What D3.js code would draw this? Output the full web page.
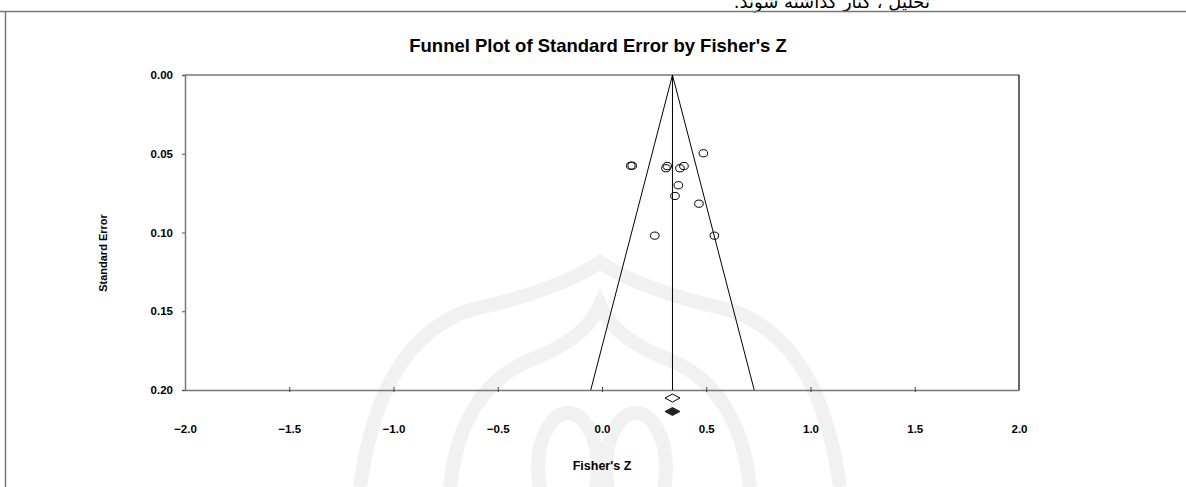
<!DOCTYPE html>
<html><head><meta charset="utf-8">
<script src="https://cdn.jsdelivr.net/npm/d3@7"></script>
<style>
html,body{margin:0;padding:0;background:#fff;}
svg{display:block;font-family:"Liberation Sans",Arial,sans-serif;}
</style></head>
<body>
<svg id="c" width="1186" height="487"></svg>
<script>
// ---- data ----
const title = "Funnel Plot of Standard Error by Fisher's Z";
const xLabel = "Fisher's Z";
const yLabel = "Standard Error";
const headerText = "تحلیل ، کنار گذاشته شوند.";
const xTicks = [-2.0, -1.5, -1.0, -0.5, 0.0, 0.5, 1.0, 1.5, 2.0];
const yTicks = [0.00, 0.05, 0.10, 0.15, 0.20];
const studyZ  = [0.486, 0.138, 0.145, 0.313, 0.307, 0.393, 0.374, 0.366, 0.350, 0.465, 0.253, 0.539];
const studySE = [0.0497, 0.0576, 0.0576, 0.0578, 0.0592, 0.0578, 0.0592, 0.0700, 0.0768, 0.0817, 0.1020, 0.1020];
const pooledZ = 0.338;          // observed combined estimate
const adjustedZ = 0.338;        // imputed (trim & fill) estimate
const zCrit = 1.96;

// ---- layout ----
const svg = d3.select("#c");
const L = 185, R = 1019, T = 75, B = 390;
const x = d3.scaleLinear().domain([-2, 2]).range([L, R]);
const y = d3.scaleLinear().domain([0, 0.2]).range([T, B]);

// watermark (faint background ornament)
const wm = svg.append("g").attr("fill","none").attr("stroke","#f1f1f1").attr("stroke-width",14);
wm.append("path").attr("d","M360,487 Q380,340 470,310 Q560,290 600,262 Q640,290 730,310 Q820,340 840,487");
wm.append("path").attr("d","M450,487 Q460,390 530,360 Q585,340 600,305 Q615,340 670,360 Q740,390 750,487");
wm.append("ellipse").attr("cx",568).attr("cy",468).attr("rx",30).attr("ry",55);
wm.append("ellipse").attr("cx",636).attr("cy",468).attr("rx",30).attr("ry",55);

// header fragment and page borders
svg.append("text").attr("x",930).attr("y",8).attr("text-anchor","start")
  .attr("font-family","'DejaVu Sans',sans-serif").attr("font-size",18).attr("direction","rtl")
  .attr("fill","#000").text(headerText);
svg.append("line").attr("x1",0).attr("x2",1186).attr("y1",11.5).attr("y2",11.5).attr("stroke","#777").attr("stroke-width",1.5);
svg.append("line").attr("x1",5.5).attr("x2",5.5).attr("y1",11).attr("y2",487).attr("stroke","#777").attr("stroke-width",1.5);

// title
svg.append("text").attr("x",598).attr("y",52).attr("text-anchor","middle")
  .attr("font-weight","bold").attr("font-size",18.5).text(title);

// plot frame
svg.append("line").attr("x1",L).attr("x2",R).attr("y1",T).attr("y2",T).attr("stroke","#777").attr("stroke-width",1.5);
svg.append("line").attr("x1",R).attr("x2",R).attr("y1",T).attr("y2",B).attr("stroke","#000").attr("stroke-width",1.2);

// axes
const yAxis = d3.axisLeft(y).tickValues(yTicks).tickFormat(d3.format(".2f")).tickSize(3).tickPadding(9);
const gy = svg.append("g").attr("transform",`translate(${L},0)`).call(yAxis);
gy.select(".domain").attr("stroke","#777").attr("stroke-width",1.5);
gy.selectAll(".tick line").attr("stroke","#555");
gy.selectAll(".tick text").attr("font-family","'Liberation Sans',Arial,sans-serif").attr("font-weight","bold").attr("font-size",11.5).attr("fill","#000");

const xAxis = d3.axisBottom(x).tickValues(xTicks).tickFormat(d3.format(".1f")).tickSize(0).tickPadding(0);
const gx = svg.append("g").attr("transform",`translate(0,${B})`).call(xAxis);
gx.select(".domain").attr("stroke","#777").attr("stroke-width",1.5);
gx.selectAll(".tick text").attr("font-family","'Liberation Sans',Arial,sans-serif").attr("font-weight","bold").attr("font-size",11.5).attr("fill","#000").attr("dy",0).attr("y",43);
gx.selectAll(".tick").filter(d => d !== -2 && d !== 2).append("line").attr("y1",-3).attr("y2",2).attr("stroke","#444");

// axis titles
svg.append("text").attr("transform",`translate(107,253) rotate(-90)`).attr("text-anchor","middle")
  .attr("font-weight","bold").attr("font-size",11).text(yLabel);
svg.append("text").attr("x",602).attr("y",470).attr("text-anchor","middle")
  .attr("font-weight","bold").attr("font-size",12.5).text(xLabel);

// funnel
const seMax = 0.2;
svg.append("path")
  .attr("d", d3.line()([[x(pooledZ - zCrit*seMax), y(seMax)],[x(pooledZ), y(0)],[x(pooledZ + zCrit*seMax), y(seMax)]]))
  .attr("fill","none").attr("stroke","#000").attr("stroke-width",1);
svg.append("line").attr("x1",x(pooledZ)).attr("x2",x(pooledZ)).attr("y1",y(0)).attr("y2",y(seMax))
  .attr("stroke","#000").attr("stroke-width",1);

// studies
svg.append("g").selectAll("ellipse").data(studyZ.map((z,i)=>({z,se:studySE[i]}))).join("ellipse")
  .attr("cx",d=>x(d.z)).attr("cy",d=>y(d.se)).attr("rx",4.3).attr("ry",3.6)
  .attr("fill","none").attr("stroke","#000").attr("stroke-width",1);

// diamonds
const diamond = (cx, cy, w, h) => `M${cx-w},${cy}L${cx},${cy-h}L${cx+w},${cy}L${cx},${cy+h}Z`;
svg.append("path").attr("d",diamond(x(pooledZ), 398, 7.5, 4)).attr("fill","#fff").attr("stroke","#000").attr("stroke-width",1);
svg.append("path").attr("d",diamond(x(adjustedZ), 411.5, 7.5, 4)).attr("fill","#222").attr("stroke","#222").attr("stroke-width",1);
</script>
</body></html>
